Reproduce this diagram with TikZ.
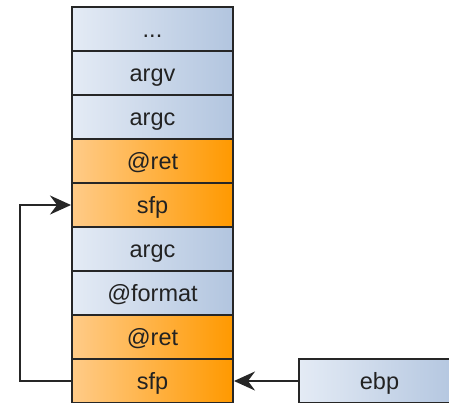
\documentclass[tikz,border=0pt]{standalone}
\usepackage{fontspec}
\setmainfont{Liberation Sans}
\usetikzlibrary{arrows.meta,positioning}
\definecolor{edge}{HTML}{262626}
\definecolor{txt}{HTML}{222222}
\definecolor{blueL}{HTML}{E4EBF5}
\definecolor{blueR}{HTML}{B2C5DF}
\definecolor{orangeL}{HTML}{FFCB88}
\definecolor{orangeR}{HTML}{FF9900}
\tikzset{
  cell/.style={draw=edge, line width=2pt, minimum width=161pt, minimum height=44pt,
    inner sep=0pt, text height=17pt, text depth=0pt, text=txt,
    font=\fontsize{23.5}{28}\selectfont},
  bluecell/.style={cell, left color=blueL, right color=blueR},
  orangecell/.style={cell, left color=orangeL, right color=orangeR},
  link/.style={draw=edge, line width=2pt},
  tip/.style={-{Stealth[length=21pt, width=19pt, inset=7pt]}}
}
\begin{document}
\begin{tikzpicture}[x=1pt, y=-1pt]
\useasboundingbox (0,0) rectangle (449,402);
% stack frame, top to bottom
\node[bluecell]   (s1) at (152.5, 29)  {...};
\node[bluecell]   (s2) at (152.5, 73)  {argv};
\node[bluecell]   (s3) at (152.5, 117) {argc};
\node[orangecell] (s4) at (152.5, 161) {@ret};
\node[orangecell] (s5) at (152.5, 205) {sfp};
\node[bluecell]   (s6) at (152.5, 249) {argc};
\node[bluecell]   (s7) at (152.5, 293) {@format};
\node[orangecell] (s8) at (152.5, 337) {@ret};
\node[orangecell] (s9) at (152.5, 381) {sfp};
% base pointer register
\node[bluecell] (ebp) at (379.5, 381) {ebp};
% pointers
\draw[link, tip] (ebp.west) -- (s9.east);
\draw[link, tip] (s9.west) -- ++(-51,0) |- (s5.west);
\end{tikzpicture}
\end{document}
